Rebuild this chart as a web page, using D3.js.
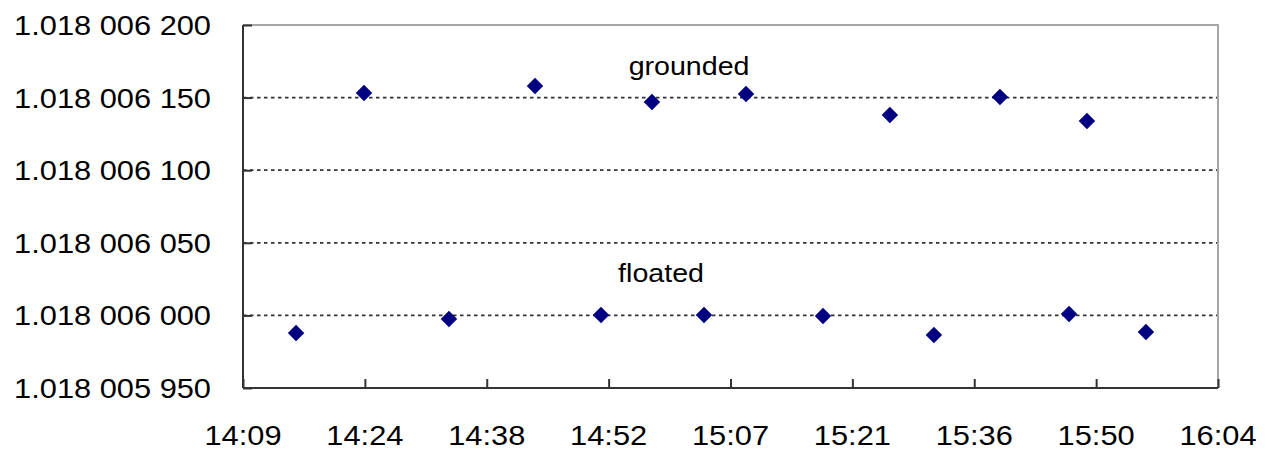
<!DOCTYPE html>
<html>
<head>
<meta charset="utf-8">
<script src="https://cdn.jsdelivr.net/npm/d3@7"></script>
<style>
  html, body { margin: 0; padding: 0; background: #fff; }
  svg { display: block; }
  text { font-family: "Liberation Sans", Arial, sans-serif; fill: #000; }
</style>
</head>
<body>
<svg id="chart" width="1278" height="450"></svg>
<script>
// ---- data ----
const groundedTimes  = ["14:23:54", "14:44:06", "14:57:55", "15:09:02", "15:26:02", "15:39:02", "15:49:19"];
const groundedValues = [1.0180061532, 1.0180061580, 1.0180061470, 1.0180061525, 1.0180061380, 1.0180061504, 1.0180061339];
const floatedTimes   = ["14:15:52", "14:33:56", "14:51:54", "15:04:04", "15:18:08", "15:31:14", "15:47:12", "15:56:17"];
const floatedValues  = [1.0180059879, 1.0180059975, 1.0180060003, 1.0180060003, 1.0180059996, 1.0180059865, 1.0180060010, 1.0180059886];
const xTickValues    = [0.59, 0.60, 0.61, 0.62, 0.63, 0.64, 0.65, 0.66, 0.67];   // fraction of a day
const xTickLabels    = ["14:09", "14:24", "14:38", "14:52", "15:07", "15:21", "15:36", "15:50", "16:04"];
const yTickValues    = [1.01800595, 1.01800600, 1.01800605, 1.01800610, 1.01800615, 1.01800620];
const yTickLabels    = ["1.018 005 950", "1.018 006 000", "1.018 006 050", "1.018 006 100", "1.018 006 150", "1.018 006 200"];
const seriesLabels   = ["grounded", "floated"];

// ---- layout ----
const svg = d3.select("#chart");
const m = { left: 243, right: 60, top: 25, bottom: 62 };
const W = 1278, H = 450;
const pw = W - m.left - m.right, ph = H - m.top - m.bottom;
const g = svg.append("g").attr("transform", `translate(${m.left},${m.top})`);

const toDay = s => { const [h, mi, se] = s.split(":").map(Number); return (h * 3600 + mi * 60 + (se || 0)) / 86400; };

const x = d3.scaleLinear().domain([0.59, 0.67]).range([0, pw]);
const y = d3.scaleLinear().domain([1.01800595, 1.01800620]).range([ph, 0]);

const FS = 28, SX = 1.1;

// gridlines (dashed)
g.append("g").selectAll("line")
  .data(yTickValues.filter(v => v > yTickValues[0] && v < yTickValues[yTickValues.length - 1]))
  .join("line")
  .attr("x1", 0).attr("x2", pw)
  .attr("y1", d => y(d)).attr("y2", d => y(d))
  .attr("stroke", "#333").attr("stroke-width", 1.7)
  .attr("stroke-dasharray", "3.5,3.5");

// frame top/right (light gray)
g.append("path")
  .attr("d", `M0,0H${pw}V${ph}`)
  .attr("fill", "none").attr("stroke", "#a6a6a6").attr("stroke-width", 2);

// y axis (ticks inside)
const yAxis = d3.axisRight(y).tickValues(yTickValues).tickSize(9).tickFormat("");
const ya = g.append("g").call(yAxis);
ya.select(".domain").remove();
ya.selectAll("line").attr("stroke", "#333").attr("stroke-width", 2);
g.append("line").attr("x1", 0).attr("x2", 0).attr("y1", 0).attr("y2", ph)
  .attr("stroke", "#333").attr("stroke-width", 2);

// x axis (ticks inside)
const xAxis = d3.axisTop(x).tickValues(xTickValues).tickSize(9).tickFormat("");
const xa = g.append("g").attr("transform", `translate(0,${ph})`).call(xAxis);
xa.select(".domain").remove();
xa.selectAll("line").attr("stroke", "#333").attr("stroke-width", 2);
g.append("line").attr("x1", 0).attr("x2", pw).attr("y1", ph).attr("y2", ph)
  .attr("stroke", "#333").attr("stroke-width", 2);

// y labels
g.append("g").selectAll("text")
  .data(yTickValues)
  .join("text")
  .attr("transform", d => `translate(${-32},${y(d)}) scale(${SX},1)`)
  .attr("text-anchor", "end").attr("dy", "0.36em")
  .attr("font-size", FS)
  .text((d, i) => yTickLabels[i]);

// x labels
g.append("g").selectAll("text")
  .data(xTickValues)
  .join("text")
  .attr("transform", d => `translate(${x(d)},${ph + 57}) scale(${SX},1)`)
  .attr("text-anchor", "middle")
  .attr("font-size", FS)
  .text((d, i) => xTickLabels[i]);

// markers
const diamond = d3.symbol().type(d3.symbolSquare).size(136);
function drawSeries(times, values) {
  g.append("g").selectAll("path")
    .data(times.map((t, i) => [toDay(t), values[i]]))
    .join("path")
    .attr("d", diamond)
    .attr("transform", d => `translate(${x(d[0])},${y(d[1])}) rotate(45)`)
    .attr("fill", "#000080");
}
drawSeries(groundedTimes, groundedValues);
drawSeries(floatedTimes, floatedValues);

// series labels
g.append("text")
  .attr("transform", `translate(${x(0.6266)},${y(1.0180061656)}) scale(${SX},1)`)
  .attr("text-anchor", "middle").attr("font-size", 26)
  .text(seriesLabels[0]);
g.append("text")
  .attr("transform", `translate(${x(0.6243)},${y(1.0180060230)}) scale(${SX},1)`)
  .attr("text-anchor", "middle").attr("font-size", 26)
  .text(seriesLabels[1]);
</script>
</body>
</html>
